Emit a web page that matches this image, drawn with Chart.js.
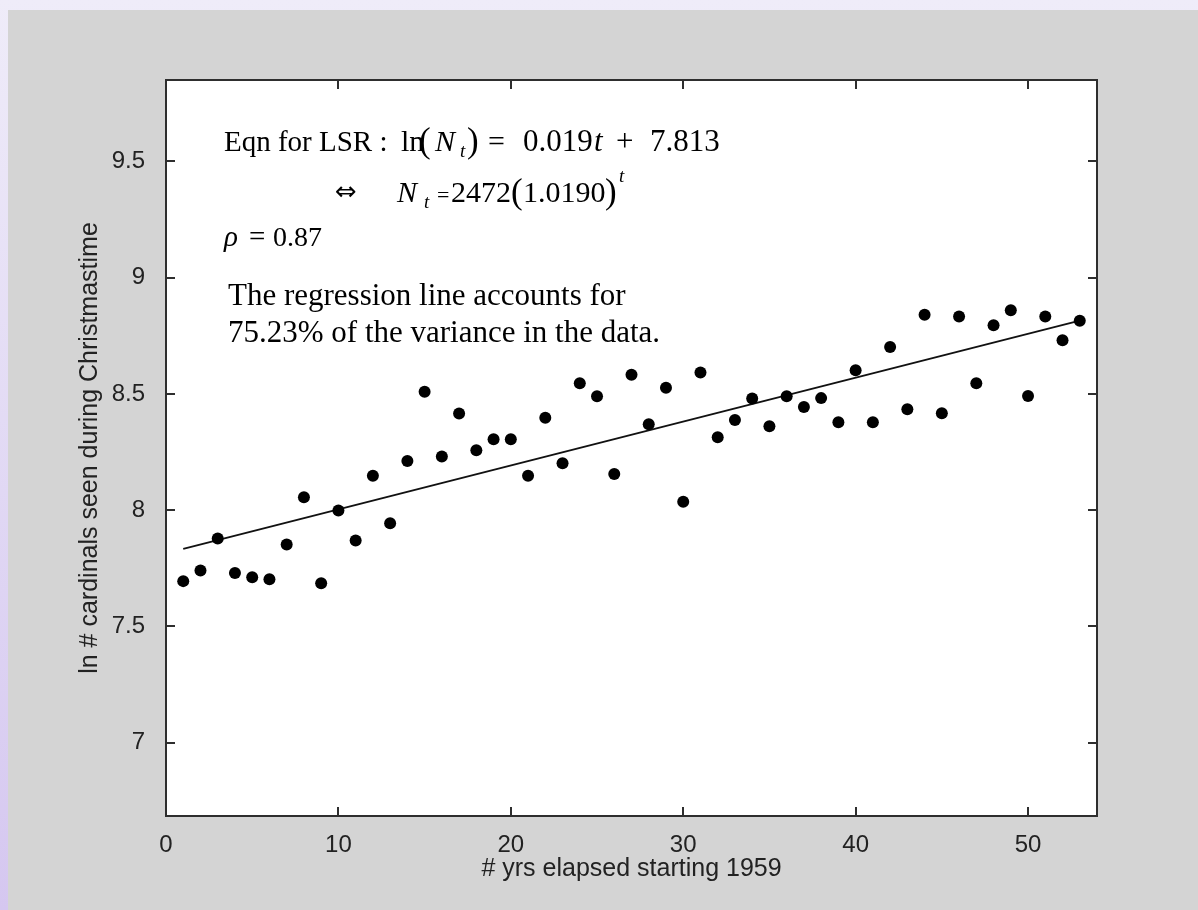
<!DOCTYPE html>
<html>
<head>
<meta charset="utf-8">
<script src="https://cdn.jsdelivr.net/npm/chart.js@4.4.1/dist/chart.umd.min.js"></script>
<style>
html,body{margin:0;padding:0;}
body{
width:1198px;height:910px;overflow:hidden;
background:linear-gradient(to bottom,#efecf9,#d5c7f0);
position:relative;
}
#panel{
position:absolute;left:8px;top:10px;width:1190px;height:900px;
background:#d4d4d4;
}
</style>
</head>
<body>
<div id="panel"><canvas id="lnChart" width="1190" height="900"></canvas></div>
<script>
/* data */

const years = [
1,2,3,4,5,6,7,8,9,10,
11,12,13,14,15,16,17,18,19,20,
21,22,23,24,25,26,27,28,29,30,
31,32,33,34,35,36,37,38,39,40,
41,42,43,44,45,46,47,48,49,50,
51,52,53
];

const lnCardinals = [
7.695,7.741,7.878,7.730,7.712,7.703,7.853,8.056,7.686,7.999,
7.870,8.148,7.944,8.212,8.509,8.231,8.416,8.258,8.305,8.305,
8.148,8.398,8.202,8.546,8.490,8.156,8.583,8.370,8.527,8.036,
8.592,8.314,8.388,8.480,8.361,8.490,8.444,8.482,8.378,8.602,
8.378,8.702,8.434,8.841,8.417,8.833,8.546,8.795,8.860,8.491,
8.833,8.731,8.815
];

// regression line ends, as drawn
const fitYears = [1,53];
const fitValues = [7.834,8.815];

const xTicks = [0,10,20,30,40,50];
const yTicks = [7,7.5,8,8.5,9,9.5];

const xRange = [0,54];
const yRange = [6.685,9.85];

const xTitle = "# yrs elapsed starting 1959";
const yTitle = "ln # cardinals seen during Christmastime";

/* white plot area */
const plotBg = {
id:"plotBg",
beforeDraw(chart){
const {ctx, chartArea:a} = chart;
ctx.save();
ctx.fillStyle = "#fff";
ctx.fillRect(a.left,a.top,a.right-a.left,a.bottom-a.top);
ctx.restore();
}
};

/* inward ticks on all four sides + box */
const boxTicks = {
id:"boxTicks",
afterDatasetsDraw(chart){
const {ctx, chartArea:a, scales:{x,y}} = chart;
ctx.save();
ctx.strokeStyle = "#2e2e2e";
ctx.lineWidth = 2;
ctx.beginPath();
x.ticks.forEach(t=>{
const p = Math.round(x.getPixelForValue(t.value));
ctx.moveTo(p,a.bottom); ctx.lineTo(p,a.bottom-9);
ctx.moveTo(p,a.top); ctx.lineTo(p,a.top+9);
});
y.ticks.forEach(t=>{
const p = Math.round(y.getPixelForValue(t.value));
ctx.moveTo(a.left,p); ctx.lineTo(a.left+9,p);
ctx.moveTo(a.right,p); ctx.lineTo(a.right-9,p);
});
ctx.stroke();
ctx.strokeRect(a.left,a.top,a.right-a.left,a.bottom-a.top);
ctx.restore();
}
};

/* the text block in the upper left */
const notes = {
id:"notes",
afterDatasetsDraw(chart){
const ctx = chart.ctx;
const serif = "'Liberation Serif','Times New Roman',serif";
const put = (txt,x,y,size,style)=>{
ctx.font = (style||"") + " " + size + "px " + serif;
ctx.fillText(txt,x,y);
};
ctx.save();
ctx.fillStyle = "#000";
ctx.textBaseline = "alphabetic";

// line 1
put("Eqn for LSR :",216,141,29);
put("ln",393,141,30);
put("(",411,142,35);
put("N",427,141,30,"italic");
put("t",452,147,19,"italic");
put(")",459,142,35);
put("=",480,141,30);
put("0.019",515,141,31);
put("t",586,141,31,"italic");
put("+",608,141,31);
put("7.813",642,141,31);

// line 2
ctx.font = "26px 'DejaVu Sans'";
ctx.fillText("\u21D4",327,190);
put("N",389,192,30,"italic");
put("t",416,198,19,"italic");
put("=",429,192,22);
put("2472",443,192,30);
put("(",503,193,35);
put("1.0190",515,192,30);
put(")",597,193,35);
put("t",611,172,19,"italic");

// line 3
put("\u03C1",216,236,29,"italic");
put("=",241,236,29);
put("0.87",265,236,28);

// lines 4-5
put("The regression line accounts for",220,295,31);
put("75.23% of the variance in the data.",220,332,31);
ctx.restore();
}
};

const ctx = document.getElementById("lnChart").getContext("2d");

new Chart(ctx,{
type:"scatter",
data:{
datasets:[
{
label:"ln count",
data:years.map((t,i)=>({x:t,y:lnCardinals[i]})),
backgroundColor:"#000",
borderColor:"#000",
pointRadius:6,
pointHoverRadius:6,
borderWidth:0
},
{
type:"line",
label:"LSR",
data:fitYears.map((t,i)=>({x:t,y:fitValues[i]})),
borderColor:"#111",
borderWidth:1.8,
pointRadius:0,
fill:false,
tension:0
}
]
},
options:{
responsive:false,
animation:false,
layout:{padding:{left:0,top:70,right:101,bottom:0}},
plugins:{
legend:{display:false},
tooltip:{enabled:false}
},
scales:{
x:{
type:"linear",
min:xRange[0],
max:xRange[1],
afterBuildTicks(s){ s.ticks = xTicks.map(v=>({value:v})); },
afterFit(s){ s.height = 94; },
grid:{display:false},
border:{display:false},
ticks:{
color:"#222",
padding:7,
font:{family:"'Liberation Sans',Arial,sans-serif",size:24}
},
title:{
display:true,
text:xTitle,
color:"#222",
padding:{bottom:26},
font:{family:"'Liberation Sans',Arial,sans-serif",size:25}
}
},
y:{
type:"linear",
min:yRange[0],
max:yRange[1],
afterBuildTicks(s){ s.ticks = yTicks.map(v=>({value:v})); },
afterFit(s){ s.width = 158; },
grid:{display:false},
border:{display:false},
ticks:{
color:"#222",
padding:13,
font:{family:"'Liberation Sans',Arial,sans-serif",size:24},
callback:v=>String(v)
},
title:{
display:true,
text:yTitle,
color:"#222",
padding:{top:67},
font:{family:"'Liberation Sans',Arial,sans-serif",size:25}
}
}
}
},
plugins:[plotBg,boxTicks,notes]
});
</script>
</body>
</html>
